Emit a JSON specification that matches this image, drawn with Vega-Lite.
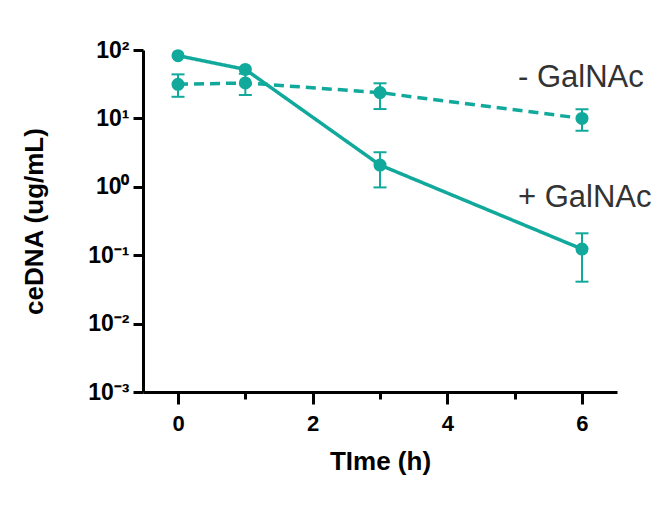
{
  "$schema": "https://vega.github.io/schema/vega-lite/v6.json",
  "width": 474,
  "height": 342,
  "autosize": "none",
  "padding": {"left": 143, "top": 50, "right": 48, "bottom": 125},
  "background": "white",
  "config": {"view": {"stroke": null}, "font": "Liberation Sans"},
  "data": {
    "values": [
      {"group": "+ GalNAc", "t": 0, "v": 82.6, "lo": null, "hi": null},
      {"group": "+ GalNAc", "t": 1, "v": 52, "lo": null, "hi": null},
      {"group": "+ GalNAc", "t": 3, "v": 2.08, "lo": 0.98, "hi": 3.2},
      {"group": "+ GalNAc", "t": 6, "v": 0.123, "lo": 0.041, "hi": 0.209},
      {"group": "- GalNAc", "t": 0, "v": 31.5, "lo": 20.7, "hi": 44},
      {"group": "- GalNAc", "t": 1, "v": 33, "lo": 22, "hi": 45},
      {"group": "- GalNAc", "t": 3, "v": 23.8, "lo": 13.7, "hi": 32.6},
      {"group": "- GalNAc", "t": 6, "v": 10.0, "lo": 6.6, "hi": 13.6}
    ]
  },
  "encoding": {
    "x": {
      "field": "t",
      "type": "quantitative",
      "scale": {"domain": [-0.52, 6.52], "nice": false, "zero": false},
      "axis": {
        "values": [0, 1, 2, 3, 4, 5, 6],
        "labelExpr": "datum.value % 2 === 0 ? datum.label : ''",
        "tickSize": {"condition": {"test": "datum.value % 2 === 0", "value": 12}, "value": 7},
        "tickWidth": 3,
        "tickColor": "black",
        "domainWidth": 3,
        "domainColor": "black",
        "grid": false,
        "labelFont": "Liberation Sans",
        "labelFontWeight": "bold",
        "labelFontSize": 22,
        "labelColor": "black",
        "labelPadding": 9,
        "title": "TIme (h)",
        "titleFont": "Liberation Sans",
        "titleFontWeight": "bold",
        "titleFontSize": 26,
        "titleColor": "black",
        "titlePadding": 14
      }
    }
  },
  "layer": [
    {
      "transform": [{"filter": "datum.lo != null"}],
      "mark": {"type": "rule", "color": "#10a99b", "strokeWidth": 2},
      "encoding": {
        "y": {"field": "lo", "type": "quantitative", "scale": {"type": "log", "domain": [0.001, 100], "nice": false}},
        "y2": {"field": "hi"}
      }
    },
    {
      "transform": [{"filter": "datum.lo != null"}],
      "mark": {"type": "tick", "orient": "horizontal", "color": "#10a99b", "size": 13, "thickness": 2, "opacity": 1},
      "encoding": {"y": {"field": "hi", "type": "quantitative"}}
    },
    {
      "transform": [{"filter": "datum.lo != null"}],
      "mark": {"type": "tick", "orient": "horizontal", "color": "#10a99b", "size": 13, "thickness": 2, "opacity": 1},
      "encoding": {"y": {"field": "lo", "type": "quantitative"}}
    },
    {
      "mark": {"type": "line", "color": "#10a99b", "strokeWidth": 3.5},
      "encoding": {
        "y": {"field": "v", "type": "quantitative"},
        "detail": {"field": "group"},
        "strokeDash": {
          "field": "group",
          "type": "nominal",
          "scale": {"domain": ["+ GalNAc", "- GalNAc"], "range": [[1, 0], [10, 6]]},
          "legend": null
        }
      }
    },
    {
      "mark": {"type": "point", "filled": true, "color": "#10a99b", "size": 170, "opacity": 1},
      "encoding": {
        "y": {
          "field": "v",
          "type": "quantitative",
          "axis": {
            "values": [0.001, 0.01, 0.1, 1, 10, 100],
            "labelExpr": "datum.value >= 50 ? '10²' : datum.value >= 5 ? '10¹' : datum.value >= 0.5 ? '10⁰' : datum.value >= 0.05 ? '10⁻¹' : datum.value >= 0.005 ? '10⁻²' : '10⁻³'",
            "tickSize": 10,
            "tickWidth": 3,
            "tickColor": "black",
            "domainWidth": 3,
            "domainColor": "black",
            "grid": false,
            "labelFont": "Liberation Sans",
            "labelFontWeight": "bold",
            "labelFontSize": 23,
            "labelColor": "black",
            "labelPadding": 4,
            "title": "ceDNA (ug/mL)",
            "titleFont": "Liberation Sans",
            "titleFontWeight": "bold",
            "titleFontSize": 26,
            "titleColor": "black",
            "titlePadding": 40
          }
        }
      }
    },
    {
      "transform": [{"filter": "datum.t === 6 && datum.group === '- GalNAc'"}],
      "mark": {"type": "text", "align": "left", "baseline": "alphabetic", "dx": -64, "dy": -31, "fontSize": 31, "color": "#333333", "font": "Liberation Sans"},
      "encoding": {"y": {"field": "v", "type": "quantitative"}, "text": {"field": "group"}}
    },
    {
      "transform": [{"filter": "datum.t === 6 && datum.group === '+ GalNAc'"}],
      "mark": {"type": "text", "align": "left", "baseline": "alphabetic", "dx": -64, "dy": -42, "fontSize": 31, "color": "#333333", "font": "Liberation Sans"},
      "encoding": {"y": {"field": "v", "type": "quantitative"}, "text": {"field": "group"}}
    }
  ]
}
